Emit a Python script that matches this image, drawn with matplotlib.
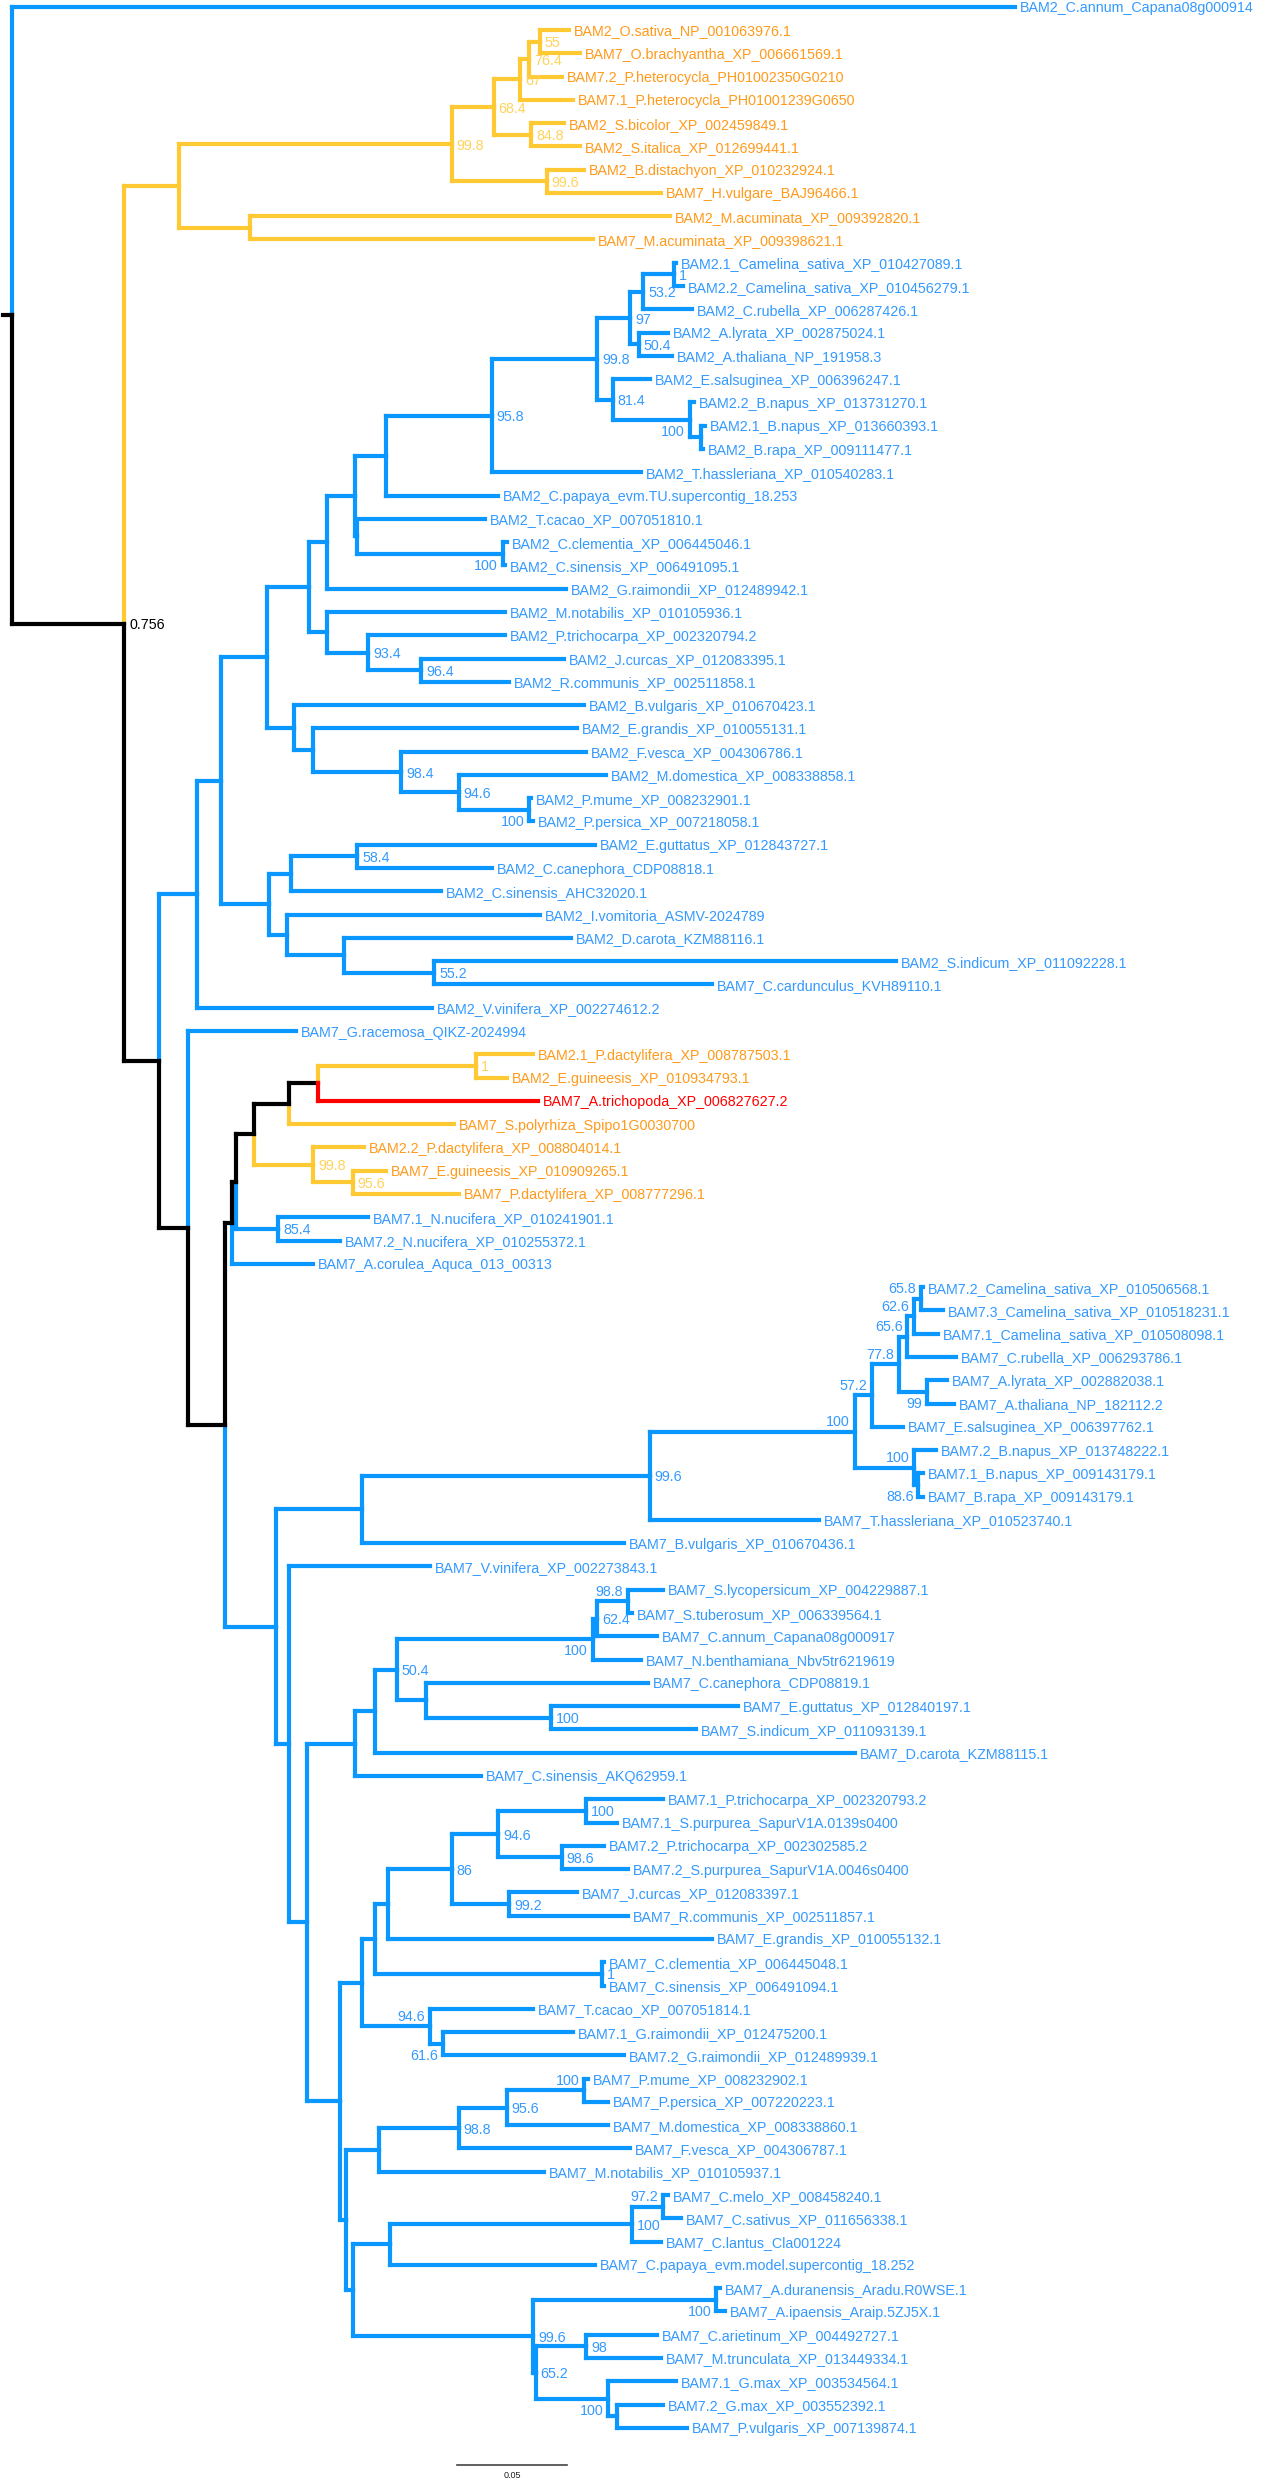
import matplotlib

matplotlib.use("Agg")
import matplotlib.pyplot as plt
from matplotlib.collections import LineCollection

# Tips: (label, distance from root in substitutions/site, group)
# group: d = eudicot/other (blue), m = monocot (yellow), a = Amborella (red)
outgroup_tips = [
    ("BAM2_C.annum_Capana08g000914", 0.456, "d"),
]
grass_tips = [
    ("BAM2_O.sativa_NP_001063976.1", 0.253, "m"),
    ("BAM7_O.brachyantha_XP_006661569.1", 0.258, "m"),
    ("BAM7.2_P.heterocycla_PH01002350G0210", 0.250, "m"),
    ("BAM7.1_P.heterocycla_PH01001239G0650", 0.255, "m"),
    ("BAM2_S.bicolor_XP_002459849.1", 0.251, "m"),
    ("BAM2_S.italica_XP_012699441.1", 0.258, "m"),
    ("BAM2_B.distachyon_XP_010232924.1", 0.260, "m"),
    ("BAM7_H.vulgare_BAJ96466.1", 0.295, "m"),
    ("BAM2_M.acuminata_XP_009392820.1", 0.299, "m"),
    ("BAM7_M.acuminata_XP_009398621.1", 0.264, "m"),
]
bam2_tips = [
    ("BAM2.1_Camelina_sativa_XP_010427089.1", 0.302, "d"),
    ("BAM2.2_Camelina_sativa_XP_010456279.1", 0.305, "d"),
    ("BAM2_C.rubella_XP_006287426.1", 0.309, "d"),
    ("BAM2_A.lyrata_XP_002875024.1", 0.298, "d"),
    ("BAM2_A.thaliana_NP_191958.3", 0.300, "d"),
    ("BAM2_E.salsuginea_XP_006396247.1", 0.290, "d"),
    ("BAM2.2_B.napus_XP_013731270.1", 0.310, "d"),
    ("BAM2.1_B.napus_XP_013660393.1", 0.315, "d"),
    ("BAM2_B.rapa_XP_009111477.1", 0.314, "d"),
    ("BAM2_T.hassleriana_XP_010540283.1", 0.286, "d"),
    ("BAM2_C.papaya_evm.TU.supercontig_18.253", 0.221, "d"),
    ("BAM2_T.cacao_XP_007051810.1", 0.215, "d"),
    ("BAM2_C.clementia_XP_006445046.1", 0.225, "d"),
    ("BAM2_C.sinensis_XP_006491095.1", 0.224, "d"),
    ("BAM2_G.raimondii_XP_012489942.1", 0.252, "d"),
    ("BAM2_M.notabilis_XP_010105936.1", 0.224, "d"),
    ("BAM2_P.trichocarpa_XP_002320794.2", 0.224, "d"),
    ("BAM2_J.curcas_XP_012083395.1", 0.251, "d"),
    ("BAM2_R.communis_XP_002511858.1", 0.226, "d"),
    ("BAM2_B.vulgaris_XP_010670423.1", 0.260, "d"),
    ("BAM2_E.grandis_XP_010055131.1", 0.257, "d"),
    ("BAM2_F.vesca_XP_004306786.1", 0.261, "d"),
    ("BAM2_M.domestica_XP_008338858.1", 0.270, "d"),
    ("BAM2_P.mume_XP_008232901.1", 0.236, "d"),
    ("BAM2_P.persica_XP_007218058.1", 0.237, "d"),
    ("BAM2_E.guttatus_XP_012843727.1", 0.265, "d"),
    ("BAM2_C.canephora_CDP08818.1", 0.218, "d"),
    ("BAM2_C.sinensis_AHC32020.1", 0.195, "d"),
    ("BAM2_I.vomitoria_ASMV-2024789", 0.240, "d"),
    ("BAM2_D.carota_KZM88116.1", 0.254, "d"),
    ("BAM2_S.indicum_XP_011092228.1", 0.402, "d"),
    ("BAM7_C.cardunculus_KVH89110.1", 0.318, "d"),
    ("BAM2_V.vinifera_XP_002274612.2", 0.191, "d"),
]
basal_tips = [
    ("BAM7_G.racemosa_QIKZ-2024994", 0.129, "d"),
    ("BAM2.1_P.dactylifera_XP_008787503.1", 0.237, "m"),
    ("BAM2_E.guineesis_XP_010934793.1", 0.225, "m"),
    ("BAM7_A.trichopoda_XP_006827627.2", 0.239, "a"),
    ("BAM7_S.polyrhiza_Spipo1G0030700", 0.201, "m"),
    ("BAM2.2_P.dactylifera_XP_008804014.1", 0.160, "m"),
    ("BAM7_E.guineesis_XP_010909265.1", 0.170, "m"),
    ("BAM7_P.dactylifera_XP_008777296.1", 0.203, "m"),
    ("BAM7.1_N.nucifera_XP_010241901.1", 0.162, "d"),
    ("BAM7.2_N.nucifera_XP_010255372.1", 0.149, "d"),
    ("BAM7_A.corulea_Aquca_013_00313", 0.137, "d"),
]
bam7_tips = [
    ("BAM7.2_Camelina_sativa_XP_010506568.1", 0.414, "d"),
    ("BAM7.3_Camelina_sativa_XP_010518231.1", 0.423, "d"),
    ("BAM7.1_Camelina_sativa_XP_010508098.1", 0.421, "d"),
    ("BAM7_C.rubella_XP_006293786.1", 0.429, "d"),
    ("BAM7_A.lyrata_XP_002882038.1", 0.425, "d"),
    ("BAM7_A.thaliana_NP_182112.2", 0.428, "d"),
    ("BAM7_E.salsuginea_XP_006397762.1", 0.405, "d"),
    ("BAM7.2_B.napus_XP_013748222.1", 0.420, "d"),
    ("BAM7.1_B.napus_XP_009143179.1", 0.414, "d"),
    ("BAM7_B.rapa_XP_009143179.1", 0.414, "d"),
    ("BAM7_T.hassleriana_XP_010523740.1", 0.367, "d"),
    ("BAM7_B.vulgaris_XP_010670436.1", 0.278, "d"),
    ("BAM7_V.vinifera_XP_002273843.1", 0.190, "d"),
    ("BAM7_S.lycopersicum_XP_004229887.1", 0.296, "d"),
    ("BAM7_S.tuberosum_XP_006339564.1", 0.282, "d"),
    ("BAM7_C.annum_Capana08g000917", 0.293, "d"),
    ("BAM7_N.benthamiana_Nbv5tr6219619", 0.286, "d"),
    ("BAM7_C.canephora_CDP08819.1", 0.289, "d"),
    ("BAM7_E.guttatus_XP_012840197.1", 0.330, "d"),
    ("BAM7_S.indicum_XP_011093139.1", 0.311, "d"),
    ("BAM7_D.carota_KZM88115.1", 0.383, "d"),
    ("BAM7_C.sinensis_AKQ62959.1", 0.213, "d"),
    ("BAM7.1_P.trichocarpa_XP_002320793.2", 0.296, "d"),
    ("BAM7.1_S.purpurea_SapurV1A.0139s0400", 0.275, "d"),
    ("BAM7.2_P.trichocarpa_XP_002302585.2", 0.269, "d"),
    ("BAM7.2_S.purpurea_SapurV1A.0046s0400", 0.280, "d"),
    ("BAM7_J.curcas_XP_012083397.1", 0.257, "d"),
    ("BAM7_R.communis_XP_002511857.1", 0.280, "d"),
    ("BAM7_E.grandis_XP_010055132.1", 0.318, "d"),
    ("BAM7_C.clementia_XP_006445048.1", 0.269, "d"),
    ("BAM7_C.sinensis_XP_006491094.1", 0.269, "d"),
    ("BAM7_T.cacao_XP_007051814.1", 0.237, "d"),
    ("BAM7.1_G.raimondii_XP_012475200.1", 0.255, "d"),
    ("BAM7.2_G.raimondii_XP_012489939.1", 0.278, "d"),
    ("BAM7_P.mume_XP_008232902.1", 0.262, "d"),
    ("BAM7_P.persica_XP_007220223.1", 0.271, "d"),
    ("BAM7_M.domestica_XP_008338860.1", 0.271, "d"),
    ("BAM7_F.vesca_XP_004306787.1", 0.281, "d"),
    ("BAM7_M.notabilis_XP_010105937.1", 0.242, "d"),
    ("BAM7_C.melo_XP_008458240.1", 0.298, "d"),
    ("BAM7_C.sativus_XP_011656338.1", 0.304, "d"),
    ("BAM7_C.lantus_Cla001224", 0.295, "d"),
    ("BAM7_C.papaya_evm.model.supercontig_18.252", 0.265, "d"),
    ("BAM7_A.duranensis_Aradu.R0WSE.1", 0.322, "d"),
    ("BAM7_A.ipaensis_Araip.5ZJ5X.1", 0.324, "d"),
    ("BAM7_C.arietinum_XP_004492727.1", 0.293, "d"),
    ("BAM7_M.trunculata_XP_013449334.1", 0.295, "d"),
    ("BAM7.1_G.max_XP_003534564.1", 0.302, "d"),
    ("BAM7.2_G.max_XP_003552392.1", 0.296, "d"),
    ("BAM7_P.vulgaris_XP_007139874.1", 0.307, "d"),
]

# Internal nodes: (id, upper child, lower child, depth, support)
backbone_nodes = [
    ("root", "BAM2_C.annum_Capana08g000914", "n0756", 0.0, ""),
    ("n0756", "yel", "H", 0.051, "0.756"),
    ("H", "I", "O", 0.067, ""),
    ("O", "BAM7_G.racemosa_QIKZ-2024994", "P", 0.080, ""),
    ("P", "V", "W", 0.097, ""),
    ("V", "T", "BAM7_A.corulea_Aquca_013_00313", 0.100, ""),
    ("T", "S", "nn854", 0.102, ""),
    ("S", "R", "pd998", 0.110, ""),
    ("R", "Q", "BAM7_S.polyrhiza_Spipo1G0030700", 0.126, ""),
    ("Q", "pd1", "BAM7_A.trichopoda_XP_006827627.2", 0.139, ""),
    ("pd1", "BAM2.1_P.dactylifera_XP_008787503.1", "BAM2_E.guineesis_XP_010934793.1", 0.211, "1"),
    ("pd998", "BAM2.2_P.dactylifera_XP_008804014.1", "pd956", 0.137, "99.8"),
    ("pd956", "BAM7_E.guineesis_XP_010909265.1", "BAM7_P.dactylifera_XP_008777296.1", 0.155, "95.6"),
    ("nn854", "BAM7.1_N.nucifera_XP_010241901.1", "BAM7.2_N.nucifera_XP_010255372.1", 0.121, "85.4"),
]
grass_nodes = [
    ("yel", "g998", "musa", 0.076, ""),
    ("g998", "g684", "g996", 0.200, "99.8"),
    ("g684", "g67", "g848", 0.219, "68.4"),
    ("g67", "g764", "BAM7.1_P.heterocycla_PH01001239G0650", 0.231, "67"),
    ("g764", "g55", "BAM7.2_P.heterocycla_PH01002350G0210", 0.235, "76.4"),
    ("g55", "BAM2_O.sativa_NP_001063976.1", "BAM7_O.brachyantha_XP_006661569.1", 0.240, "55"),
    ("g848", "BAM2_S.bicolor_XP_002459849.1", "BAM2_S.italica_XP_012699441.1", 0.236, "84.8"),
    ("g996", "BAM2_B.distachyon_XP_010232924.1", "BAM7_H.vulgare_BAJ96466.1", 0.243, "99.6"),
    ("musa", "BAM2_M.acuminata_XP_009392820.1", "BAM7_M.acuminata_XP_009398621.1", 0.108, ""),
]
bam2_nodes = [
    ("I", "J", "BAM2_V.vinifera_XP_002274612.2", 0.084, ""),
    ("J", "E", "K", 0.095, ""),
    ("E", "C", "F", 0.116, ""),
    ("C", "B", "D", 0.135, ""),
    ("B", "A", "BAM2_G.raimondii_XP_012489942.1", 0.143, ""),
    ("A", "papN", "tcN", 0.156, ""),
    ("papN", "n958", "BAM2_C.papaya_evm.TU.supercontig_18.253", 0.170, ""),
    ("n958", "n998b", "BAM2_T.hassleriana_XP_010540283.1", 0.218, "95.8"),
    ("n998b", "n97", "n814", 0.266, "99.8"),
    ("n97", "n532", "n504", 0.281, "97"),
    ("n532", "cam1", "BAM2_C.rubella_XP_006287426.1", 0.287, "53.2"),
    ("cam1", "BAM2.1_Camelina_sativa_XP_010427089.1", "BAM2.2_Camelina_sativa_XP_010456279.1", 0.301, "1"),
    ("n504", "BAM2_A.lyrata_XP_002875024.1", "BAM2_A.thaliana_NP_191958.3", 0.285, "50.4"),
    ("n814", "BAM2_E.salsuginea_XP_006396247.1", "bn100", 0.273, "81.4"),
    ("bn100", "BAM2.2_B.napus_XP_013731270.1", "bn_in", 0.308, "100"),
    ("bn_in", "BAM2.1_B.napus_XP_013660393.1", "BAM2_B.rapa_XP_009111477.1", 0.313, ""),
    ("tcN", "BAM2_T.cacao_XP_007051810.1", "cit100", 0.157, ""),
    ("cit100", "BAM2_C.clementia_XP_006445046.1", "BAM2_C.sinensis_XP_006491095.1", 0.223, "100"),
    ("D", "BAM2_M.notabilis_XP_010105936.1", "n934", 0.143, ""),
    ("n934", "BAM2_P.trichocarpa_XP_002320794.2", "n964", 0.162, "93.4"),
    ("n964", "BAM2_J.curcas_XP_012083395.1", "BAM2_R.communis_XP_002511858.1", 0.186, "96.4"),
    ("F", "BAM2_B.vulgaris_XP_010670423.1", "G", 0.128, ""),
    ("G", "BAM2_E.grandis_XP_010055131.1", "n984", 0.137, ""),
    ("n984", "BAM2_F.vesca_XP_004306786.1", "n946", 0.177, "98.4"),
    ("n946", "BAM2_M.domestica_XP_008338858.1", "pru100", 0.203, "94.6"),
    ("pru100", "BAM2_P.mume_XP_008232901.1", "BAM2_P.persica_XP_007218058.1", 0.235, "100"),
    ("K", "L", "M", 0.117, ""),
    ("L", "n584", "BAM2_C.sinensis_AHC32020.1", 0.127, ""),
    ("n584", "BAM2_E.guttatus_XP_012843727.1", "BAM2_C.canephora_CDP08818.1", 0.157, "58.4"),
    ("M", "BAM2_I.vomitoria_ASMV-2024789", "N", 0.125, ""),
    ("N", "BAM2_D.carota_KZM88116.1", "n552", 0.151, ""),
    ("n552", "BAM2_S.indicum_XP_011092228.1", "BAM7_C.cardunculus_KVH89110.1", 0.192, "55.2"),
]
bam7_nodes = [
    ("W", "X", "Y", 0.120, ""),
    ("X", "b996", "BAM7_B.vulgaris_XP_010670436.1", 0.159, ""),
    ("b996", "b100", "BAM7_T.hassleriana_XP_010523740.1", 0.290, "99.6"),
    ("b100", "b572", "bn7", 0.383, "100"),
    ("b572", "b778", "BAM7_E.salsuginea_XP_006397762.1", 0.391, "57.2"),
    ("b778", "b656", "b99", 0.403, "77.8"),
    ("b656", "b626", "BAM7_C.rubella_XP_006293786.1", 0.407, "65.6"),
    ("b626", "b658", "BAM7.1_Camelina_sativa_XP_010508098.1", 0.410, "62.6"),
    ("b658", "BAM7.2_Camelina_sativa_XP_010506568.1", "BAM7.3_Camelina_sativa_XP_010518231.1", 0.413, "65.8"),
    ("b99", "BAM7_A.lyrata_XP_002882038.1", "BAM7_A.thaliana_NP_182112.2", 0.416, "99"),
    ("bn7", "BAM7.2_B.napus_XP_013748222.1", "b886", 0.410, "100"),
    ("b886", "BAM7.1_B.napus_XP_009143179.1", "BAM7_B.rapa_XP_009143179.1", 0.412, "88.6"),
    ("Y", "BAM7_V.vinifera_XP_002273843.1", "Z", 0.126, ""),
    ("Z", "AA", "BB", 0.134, ""),
    ("AA", "CC", "BAM7_C.sinensis_AKQ62959.1", 0.156, ""),
    ("CC", "s504", "BAM7_D.carota_KZM88115.1", 0.165, ""),
    ("s504", "sol100", "cc425", 0.175, "50.4"),
    ("sol100", "s624", "BAM7_N.benthamiana_Nbv5tr6219619", 0.264, "100"),
    ("s624", "s988", "BAM7_C.annum_Capana08g000917", 0.266, "62.4"),
    ("s988", "BAM7_S.lycopersicum_XP_004229887.1", "BAM7_S.tuberosum_XP_006339564.1", 0.280, "98.8"),
    ("cc425", "BAM7_C.canephora_CDP08819.1", "es100", 0.188, ""),
    ("es100", "BAM7_E.guttatus_XP_012840197.1", "BAM7_S.indicum_XP_011093139.1", 0.245, "100"),
    ("BB", "FF", "HH", 0.149, ""),
    ("FF", "EE", "mal946", 0.159, ""),
    ("EE", "DD", "cit1", 0.165, ""),
    ("DD", "n86", "BAM7_E.grandis_XP_010055132.1", 0.171, ""),
    ("n86", "n946b", "n992", 0.200, "86"),
    ("n946b", "sal100", "n986", 0.221, "94.6"),
    ("sal100", "BAM7.1_P.trichocarpa_XP_002320793.2", "BAM7.1_S.purpurea_SapurV1A.0139s0400", 0.261, "100"),
    ("n986", "BAM7.2_P.trichocarpa_XP_002302585.2", "BAM7.2_S.purpurea_SapurV1A.0046s0400", 0.250, "98.6"),
    ("n992", "BAM7_J.curcas_XP_012083397.1", "BAM7_R.communis_XP_002511857.1", 0.226, "99.2"),
    ("cit1", "BAM7_C.clementia_XP_006445048.1", "BAM7_C.sinensis_XP_006491094.1", 0.268, "1"),
    ("mal946", "BAM7_T.cacao_XP_007051814.1", "n616", 0.190, "94.6"),
    ("n616", "BAM7.1_G.raimondii_XP_012475200.1", "BAM7.2_G.raimondii_XP_012489939.1", 0.196, "61.6"),
    ("HH", "II", "JJ", 0.152, ""),
    ("II", "r988", "BAM7_M.notabilis_XP_010105937.1", 0.167, ""),
    ("r988", "r956", "BAM7_F.vesca_XP_004306787.1", 0.203, "98.8"),
    ("r956", "pru7", "BAM7_M.domestica_XP_008338860.1", 0.225, "95.6"),
    ("pru7", "BAM7_P.mume_XP_008232902.1", "BAM7_P.persica_XP_007220223.1", 0.260, "100"),
    ("JJ", "KK", "fab996", 0.155, ""),
    ("KK", "cuc100", "BAM7_C.papaya_evm.model.supercontig_18.252", 0.172, ""),
    ("cuc100", "c972", "BAM7_C.lantus_Cla001224", 0.282, "100"),
    ("c972", "BAM7_C.melo_XP_008458240.1", "BAM7_C.sativus_XP_011656338.1", 0.296, "97.2"),
    ("fab996", "ar100", "f652", 0.237, "99.6"),
    ("ar100", "BAM7_A.duranensis_Aradu.R0WSE.1", "BAM7_A.ipaensis_Araip.5ZJ5X.1", 0.320, "100"),
    ("f652", "f98", "gl100", 0.238, "65.2"),
    ("f98", "BAM7_C.arietinum_XP_004492727.1", "BAM7_M.trunculata_XP_013449334.1", 0.261, "98"),
    ("gl100", "BAM7.1_G.max_XP_003534564.1", "gl_in", 0.271, "100"),
    ("gl_in", "BAM7.2_G.max_XP_003552392.1", "BAM7_P.vulgaris_XP_007139874.1", 0.275, ""),
]

query_tip = "BAM7_A.trichopoda_XP_006827627.2"
scale_length = 0.05

# support labels that sit to the left of their node
left_above = {"b100", "b572", "b778", "b656", "b626", "b658", "bn7", "s988", "mal946", "pru7", "c972"}
left_below = {"bn100", "cit100", "pru100", "b99", "b886", "sol100", "n616", "ar100", "gl100"}

BLUE = "#0a97ff"
BLUE_TEXT = "#3399ff"
YELLOW = "#ffc933"
ORANGE_TEXT = "#ff9a1a"
YELLOW_TEXT = "#ffd25a"
RED = "#ff0000"
BLACK = "#000000"

tips = {}
groups = {}
for name, depth, group in outgroup_tips + grass_tips + bam2_tips + basal_tips + bam7_tips:
    tips[name] = depth
    groups[name] = group

nodes = {}
parent = {}
for nid, upper, lower, depth, support in backbone_nodes + grass_nodes + bam2_nodes + bam7_nodes:
    nodes[nid] = (upper, lower, depth, support)
    parent[upper] = nid
    parent[lower] = nid

ypos = {}
leaf_order = []


def place(n):
    if n in tips:
        ypos[n] = len(leaf_order)
        leaf_order.append(n)
        return [n]
    upper, lower, _, _ = nodes[n]
    below = place(upper) + place(lower)
    ypos[n] = (ypos[upper] + ypos[lower]) / 2
    descendants[n] = below
    return below


descendants = {}
place("root")


def depth_of(n):
    return tips[n] if n in tips else nodes[n][2]


query_path = set()
walker = query_tip
while walker in parent:
    walker = parent[walker]
    query_path.add(walker)


def branch_color(n):
    if n in tips:
        return {"d": BLUE, "m": YELLOW, "a": RED}[groups[n]]
    if n in query_path:
        return BLACK
    if all(groups[t] == "m" for t in descendants[n]):
        return YELLOW
    return BLUE


segments = {BLUE: [], YELLOW: [], BLACK: [], RED: []}
for nid, (upper, lower, depth, _) in nodes.items():
    for child in (upper, lower):
        col = branch_color(child)
        segments[col].append([(depth, ypos[child]), (depth_of(child), ypos[child])])
        segments[col].append([(depth, ypos[nid]), (depth, ypos[child])])
segments[BLACK].append([(-0.004, ypos["root"]), (0.0, ypos["root"])])

px_per_unit = 2200.0
fig = plt.figure(figsize=(12.66, 24.81), dpi=100)
ax = fig.add_axes([0, 0, 1, 1])
ax.set_xlim(-12 / px_per_unit, (1266 - 12) / px_per_unit)
ax.set_ylim((2481 - 6.7) / 23.28, -6.7 / 23.28)
ax.axis("off")

for col in (BLUE, YELLOW, BLACK, RED):
    ax.add_collection(LineCollection(segments[col], colors=col, linewidths=3.0, capstyle="projecting"))

font = "Liberation Sans"
for name in leaf_order:
    col = {"d": BLUE_TEXT, "m": ORANGE_TEXT, "a": RED}[groups[name]]
    ax.annotate(name, (tips[name], ypos[name]), xytext=(3.5, 0), textcoords="offset points",
                ha="left", va="center_baseline", fontsize=10.3, color=col, family=font)

for nid, (upper, lower, depth, support) in nodes.items():
    if not support:
        continue
    col = branch_color(nid)
    txt_col = {BLUE: BLUE_TEXT, YELLOW: YELLOW_TEXT, BLACK: BLACK, RED: RED}[col]
    if nid in left_above:
        off, ha = (-3.5, 8), "right"
    elif nid in left_below:
        off, ha = (-3.5, -7.5), "right"
    else:
        off, ha = (3.5, 0), "left"
    ax.annotate(support, (depth, ypos[nid]), xytext=off, textcoords="offset points",
                ha=ha, va="center_baseline", fontsize=10.3, color=txt_col, family=font)

# scale bar
bar_x0 = (457 - 12) / px_per_unit
bar_y = (2465 - 6.7) / 23.28
ax.plot([bar_x0, bar_x0 + scale_length], [bar_y, bar_y], color="#444444", lw=1.2)
ax.text(bar_x0 + scale_length / 2, bar_y + 0.45, "0.05", ha="center", va="center",
        fontsize=6.5, color="#222222", family=font)

fig.savefig("out.png", dpi=100)
